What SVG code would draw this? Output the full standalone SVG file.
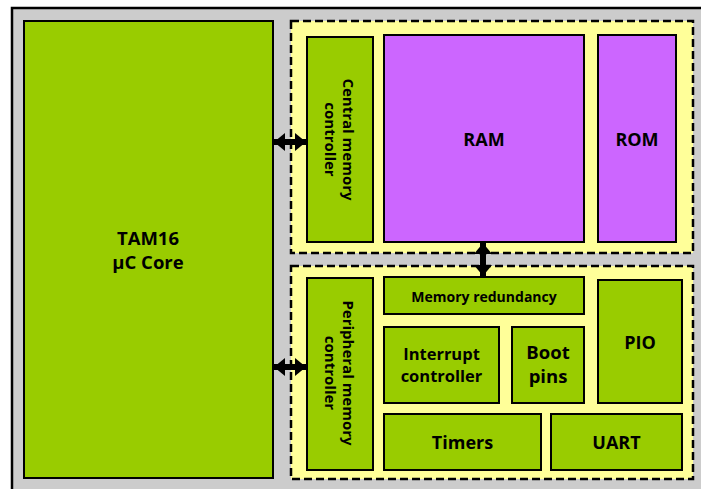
<svg xmlns="http://www.w3.org/2000/svg" width="701" height="489" viewBox="0 0 701 489">
<defs>
<style>
.blk{stroke:#000;stroke-width:2}
.g{fill:#99CC00}
.p{fill:#CC66FF}
.zone{fill:#FFFF99;stroke:#000;stroke-width:2.5;stroke-dasharray:8 4}
text{font-family:"Open Sans",Lato,"Liberation Sans",sans-serif;font-weight:bold;fill:#000;text-anchor:middle}
.conn{stroke:#000;stroke-width:6;fill:none}
</style>
<marker id="ah" viewBox="0 0 11 18" refX="11" refY="9" markerWidth="11" markerHeight="18" markerUnits="userSpaceOnUse" orient="auto-start-reverse">
<path d="M0,0 L11,9 L0,18 z" fill="#000"/>
</marker>
</defs>
<rect x="12" y="8" width="700" height="490" fill="#CCCCCC" stroke="#000" stroke-width="2.5"/>
<g id="central-zone"><rect class="zone" x="291" y="21" width="402" height="232"/></g>
<g id="peripheral-zone"><rect class="zone" x="291" y="266" width="402" height="213"/></g>
<g id="tam16">
<rect class="blk g" x="24" y="21" width="249" height="457"/>
<text x="148" y="245" font-size="18.5">TAM16</text>
<text x="148" y="269" font-size="18.5">µC Core</text>
</g>
<g id="central-memory-controller">
<rect class="blk g" x="307" y="37" width="66" height="205"/>
<g transform="translate(340,139.5) rotate(90)">
<text x="0" y="-3" font-size="15">Central memory</text>
<text x="0" y="15" font-size="15">controller</text>
</g>
</g>
<g id="ram">
<rect class="blk p" x="384" y="35" width="200" height="207"/>
<text x="484" y="146" font-size="18">RAM</text>
</g>
<g id="rom">
<rect class="blk p" x="598" y="35" width="78" height="207"/>
<text x="637" y="146" font-size="18">ROM</text>
</g>
<g id="peripheral-memory-controller">
<rect class="blk g" x="307" y="278" width="66" height="192"/>
<g transform="translate(340,373) rotate(90)">
<text x="0" y="-3" font-size="15">Peripheral memory</text>
<text x="0" y="15" font-size="15">controller</text>
</g>
</g>
<g id="memory-redundancy">
<rect class="blk g" x="384" y="277" width="200" height="37"/>
<text x="484" y="302" font-size="14">Memory redundancy</text>
</g>
<g id="interrupt-controller">
<rect class="blk g" x="384" y="327" width="115" height="76"/>
<text x="441.5" y="360" font-size="16.5">Interrupt</text>
<text x="441.5" y="382" font-size="16.5">controller</text>
</g>
<g id="boot-pins">
<rect class="blk g" x="512" y="327" width="72" height="76"/>
<text x="548" y="359" font-size="18.5">Boot</text>
<text x="548" y="383" font-size="18.5">pins</text>
</g>
<g id="pio">
<rect class="blk g" x="598" y="280" width="84" height="123"/>
<text x="640" y="349" font-size="18">PIO</text>
</g>
<g id="timers">
<rect class="blk g" x="384" y="414" width="157" height="56"/>
<text x="462.5" y="449" font-size="18">Timers</text>
</g>
<g id="uart">
<rect class="blk g" x="551" y="414" width="131" height="56"/>
<text x="616.5" y="449" font-size="18">UART</text>
</g>
<g id="connectors">
<line class="conn" x1="274" y1="142" x2="306" y2="142" marker-start="url(#ah)" marker-end="url(#ah)"/>
<line class="conn" x1="274" y1="367" x2="306" y2="367" marker-start="url(#ah)" marker-end="url(#ah)"/>
<line class="conn" x1="483" y1="243" x2="483" y2="276" marker-start="url(#ah)" marker-end="url(#ah)"/>
</g>
</svg>
